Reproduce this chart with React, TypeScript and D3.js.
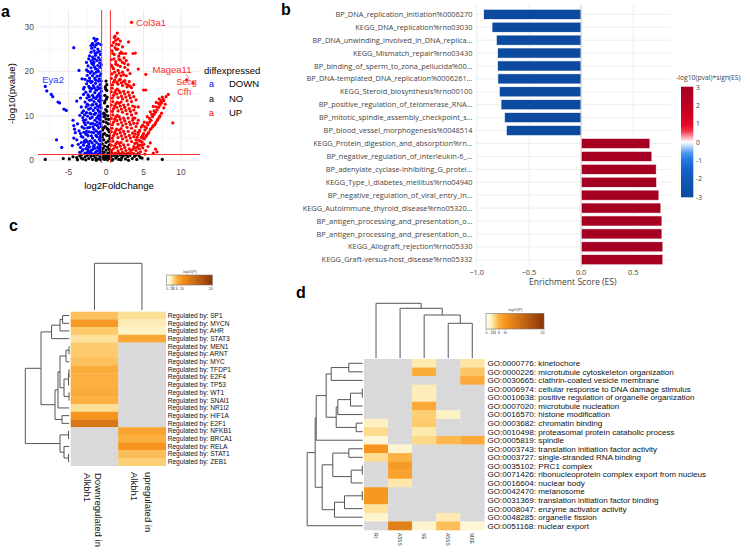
import React from "react";
import * as d3 from "d3";

// ---------- panel a: volcano ----------
const volcanoDown: [number, number][] = [
  [-8.1, 16.6], [-7.9, 15.6], [-7.3, 14.8], [-7.1, 14.3], [-6.4, 13.1], [-6.2, 12.9], [-5.6, 11.5], [-5.3, 11.2],
  [-6.6, 4.6], [-5.9, 2.9], [-4.3, 25.3], [-3.6, 20.2], [-3.2, 18.3], [-4.4, 9.0], [-4.3, 7.8], [-4.2, 7.0],
  [-4.1, 6.2], [-4.3, 5.0], [-3.9, 4.6], [-3.7, 3.6], [-4.5, 3.3], [-3.4, 2.9], [-3.1, 2.4], [-3.5, 1.8],
  [-2.8, 1.6], [-3.9, 13.3], [-3.3, 12.0], [-3.5, 10.1], [-2.9, 8.5], [-3.8, 8.2], [-3.6, 6.6], [-3.3, 5.4],
  [-2.7, 5.9], [-2.9, 4.3], [-2.5, 3.2], [-2.4, 2.0], [-2.1, 1.5],
  [-1.6, 27.4], [-1.4, 26.8], [-1.8, 26.3], [-1.3, 26.0],
  [-1.9, 25.2], [-1.5, 25.5], [-1.1, 25.0], [-2.0, 24.3], [-1.6, 24.6], [-1.2, 24.2], [-0.9, 24.5],
  [-2.2, 23.5], [-1.8, 23.2], [-1.4, 23.6], [-1.0, 23.1], [-0.8, 22.6], [-2.0, 22.3], [-1.6, 22.0], [-1.2, 22.4],
  [-2.4, 21.2], [-2.0, 20.8], [-1.7, 21.5], [-1.4, 20.6], [-1.1, 21.3], [-0.8, 20.9], [-2.6, 20.3], [-1.9, 20.0], [-1.3, 19.8],
  [-2.5, 19.1], [-2.2, 18.5], [-1.8, 19.0], [-1.5, 18.4], [-1.2, 18.9], [-0.9, 18.3], [-0.7, 19.4], [-2.8, 18.2],
  [-2.6, 17.2], [-2.3, 16.6], [-2.0, 17.5], [-1.7, 16.8], [-1.4, 17.3], [-1.1, 16.5], [-0.8, 17.0], [-2.9, 16.4], [-1.9, 16.1],
  [-2.7, 15.3], [-2.4, 14.7], [-2.1, 15.5], [-1.8, 14.6], [-1.5, 15.2], [-1.2, 14.3], [-0.9, 15.0], [-0.7, 14.4], [-3.0, 14.8],
  [-2.8, 13.1], [-2.5, 12.6], [-2.2, 13.5], [-1.9, 12.4], [-1.6, 13.2], [-1.3, 12.7], [-1.0, 13.4], [-0.75, 12.5],
  [-3.0, 11.1], [-2.6, 10.7], [-2.3, 11.5], [-2.0, 10.4], [-1.7, 11.2], [-1.4, 10.6], [-1.1, 11.4], [-0.8, 10.9], [-0.65, 11.8],
  [-2.7, 9.1], [-2.4, 8.5], [-2.1, 9.4], [-1.8, 8.3], [-1.5, 9.0], [-1.2, 8.6], [-0.9, 9.3], [-0.7, 8.1], [-3.1, 9.6],
  [-2.9, 7.2], [-2.6, 6.5], [-2.2, 7.4], [-1.9, 6.3], [-1.6, 7.0], [-1.3, 6.6], [-1.0, 7.3], [-0.75, 6.4], [-0.65, 7.6],
  [-3.1, 5.2], [-2.7, 4.6], [-2.4, 5.5], [-2.1, 4.3], [-1.8, 5.0], [-1.5, 4.4], [-1.2, 5.3], [-0.9, 4.7], [-0.7, 5.6],
  [-3.0, 3.4], [-2.7, 2.6], [-2.3, 3.7], [-2.0, 2.2], [-1.7, 3.1], [-1.4, 1.8], [-1.1, 2.9], [-0.85, 2.0], [-0.7, 3.5],
  [-1.9, 1.5], [-1.0, 1.4], [-2.6, 1.6], [-0.7, 26.0], [-0.75, 23.8], [-0.65, 21.5], [-0.7, 16.2], [-0.65, 13.5],
  [-0.7, 9.8], [-0.8, 3.0], [-0.62, 2.5], [-0.9, 12.0], [-1.0, 20.0], [-1.2, 27.2], [-0.65, 17.8], [-0.62, 15.5],
  [-0.63, 10.3], [-0.64, 4.4], [-0.95, 6.0], [-1.05, 9.9], [-1.35, 15.8], [-1.55, 21.0], [-2.15, 17.9],
  [-1.75, 26.0], [-1.45, 24.0], [-1.05, 26.3], [-2.3, 22.8], [-1.9, 21.8], [-1.5, 22.8], [-1.15, 20.4], [-0.85, 21.9],
  [-2.4, 20.0], [-2.1, 19.6], [-1.6, 19.5], [-1.35, 18.0], [-1.0, 17.8], [-0.85, 19.0], [-2.45, 17.8], [-2.15, 16.2],
  [-1.85, 17.7], [-1.55, 16.3], [-1.25, 15.8], [-0.95, 16.1], [-0.8, 14.0], [-2.55, 14.0], [-2.25, 14.3], [-1.95, 13.6],
  [-1.65, 14.1], [-1.35, 13.9], [-1.05, 14.6], [-0.85, 13.2], [-2.65, 12.0], [-2.35, 12.4], [-2.05, 11.7], [-1.75, 12.5],
  [-1.45, 11.8], [-1.15, 12.2], [-0.95, 11.0], [-2.85, 10.2], [-2.45, 9.9], [-2.15, 10.6], [-1.85, 9.7], [-1.55, 10.3],
  [-1.25, 9.5], [-0.95, 10.2], [-0.75, 9.0], [-2.75, 8.0], [-2.45, 7.3], [-2.05, 8.2], [-1.75, 7.5], [-1.45, 8.0],
  [-1.15, 7.8], [-0.85, 8.3], [-2.95, 6.3], [-2.55, 5.8], [-2.25, 6.4], [-1.95, 5.5], [-1.65, 6.2], [-1.35, 5.6],
  [-1.05, 6.2], [-0.8, 5.2], [-2.85, 4.0], [-2.5, 4.2], [-2.2, 3.0], [-1.85, 3.9], [-1.55, 3.4], [-1.25, 4.0],
  [-0.95, 3.6], [-0.75, 4.4], [-2.45, 2.5], [-2.15, 1.8], [-1.8, 2.4], [-1.5, 2.7], [-1.2, 2.1], [-0.9, 2.6],
  [-0.7, 1.7], [-1.6, 1.4], [-2.3, 1.4], [-3.2, 2.1], [-3.3, 4.0], [-3.4, 6.0], [-3.2, 7.5], [-3.0, 9.0],
  [-3.2, 10.7], [-3.4, 14.0], [-3.0, 16.0], [-2.6, 22.0], [-2.0, 25.8], [-1.7, 22.7],
];

const volcanoUp: [number, number][] = [
  [3.4, 31.0], [1.5, 28.6], [3.0, 26.6], [3.6, 24.0], [3.9, 24.1], [5.3, 19.3], [5.0, 15.8], [5.3, 15.8],
  [8.9, 8.4], [6.8, 1.9], [10.75, 18.1], [11.6, 17.4], [8.3, 14.8], [8.0, 14.3], [7.6, 13.7], [2.2, 25.5],
  [2.6, 24.0], [1.3, 27.0], [4.3, 20.5],
  [1.2, 27.9], [1.6, 27.3], [1.0, 26.5], [1.4, 26.1], [1.9, 26.8], [0.8, 25.8],
  [0.8, 24.6], [1.1, 23.8], [1.4, 24.9], [1.7, 23.4], [2.0, 24.3], [2.4, 23.0], [0.7, 22.6], [1.3, 22.2], [1.9, 22.5], [2.7, 22.4],
  [0.7, 21.4], [1.0, 20.6], [1.3, 21.6], [1.6, 20.2], [1.9, 21.1], [2.2, 19.8], [2.5, 20.9], [2.9, 20.3], [0.8, 19.4], [1.4, 19.1], [3.2, 19.5], [2.0, 19.0],
  [0.7, 18.4], [1.0, 17.6], [1.3, 18.7], [1.6, 17.1], [1.9, 18.2], [2.2, 16.8], [2.5, 17.9], [2.8, 16.5], [3.1, 17.7], [3.4, 16.3], [0.8, 16.2], [1.5, 16.0], [3.7, 17.0],
  [0.7, 15.4], [1.0, 14.6], [1.3, 15.7], [1.6, 14.1], [1.9, 15.2], [2.2, 13.8], [2.5, 14.9], [2.8, 13.4], [3.1, 14.6], [3.4, 13.2], [3.7, 14.3], [0.9, 13.2], [4.0, 13.6], [1.5, 13.0], [2.0, 13.1],
  [0.7, 12.4], [1.0, 11.6], [1.3, 12.7], [1.6, 11.1], [1.9, 12.2], [2.2, 10.8], [2.5, 11.9], [2.8, 10.4], [3.1, 11.6], [3.4, 10.2], [3.7, 11.3], [4.0, 10.6], [0.9, 10.2], [1.5, 10.1], [4.3, 12.0],
  [0.7, 9.4], [1.0, 8.6], [1.3, 9.7], [1.6, 8.1], [1.9, 9.2], [2.2, 7.8], [2.5, 8.9], [2.8, 7.4], [3.1, 8.6], [3.4, 7.2], [3.7, 8.3], [4.0, 7.6], [4.3, 9.0], [0.8, 7.2], [1.4, 7.0], [2.0, 7.1],
  [0.7, 6.4], [1.0, 5.6], [1.3, 6.7], [1.6, 5.1], [1.9, 6.2], [2.2, 4.8], [2.5, 5.9], [2.8, 4.4], [3.1, 5.6], [3.4, 4.2], [3.7, 5.3], [4.0, 4.6], [4.3, 5.8], [4.6, 4.3], [0.9, 4.3], [1.5, 4.1], [2.0, 4.0], [4.9, 5.0],
  [0.7, 3.4], [1.0, 2.6], [1.3, 3.7], [1.6, 2.1], [1.9, 3.2], [2.2, 1.8], [2.5, 2.9], [2.8, 1.5], [3.1, 2.6], [3.4, 1.7], [3.7, 3.1], [4.0, 2.2], [4.3, 3.4], [4.6, 1.9], [4.9, 2.8], [0.8, 1.6], [1.4, 1.5], [2.0, 1.4],
  [3.8, 2.8], [4.1, 3.9], [4.4, 4.5], [4.7, 5.2], [5.0, 6.0], [5.2, 6.8], [5.4, 7.3], [5.6, 8.0], [5.8, 8.6], [6.0, 9.0],
  [6.2, 9.8], [6.4, 10.3], [6.6, 10.8], [6.8, 11.3], [7.0, 11.9], [7.2, 12.4], [7.4, 12.9], [7.7, 13.4],
  [4.5, 3.4], [4.8, 4.1], [5.1, 4.8], [5.4, 5.6], [5.7, 6.3], [6.0, 7.1], [6.3, 7.8], [6.6, 8.4], [6.9, 9.2], [7.2, 10.0],
  [4.3, 6.3], [4.7, 7.5], [5.1, 8.6], [5.5, 9.8], [5.9, 10.9], [6.3, 12.1], [6.7, 13.0], [7.1, 13.8], [7.5, 14.2],
  [5.3, 2.2], [5.6, 3.1], [5.9, 3.9], [6.3, 1.6], [6.6, 2.5], [5.2, 1.4], [4.5, 6.8], [4.9, 7.9], [3.6, 9.5], [3.9, 5.9],
  [1.1, 27.6], [1.7, 26.0], [0.9, 24.0], [1.2, 25.3], [1.55, 25.0], [1.85, 24.0], [2.2, 24.0], [1.05, 22.8], [1.55, 21.4],
  [1.75, 22.7], [2.2, 22.0], [2.45, 21.8], [0.85, 21.0], [1.15, 19.8], [1.75, 19.6], [2.35, 19.2], [2.7, 19.0], [2.95, 21.5],
  [1.15, 18.0], [1.45, 17.5], [1.75, 18.0], [2.05, 17.4], [2.35, 17.7], [2.65, 17.2], [2.95, 16.9], [3.25, 16.6], [0.85, 17.0],
  [1.15, 15.2], [1.45, 14.9], [1.75, 15.6], [2.05, 14.4], [2.35, 15.5], [2.65, 14.2], [2.95, 15.3], [3.25, 14.0], [3.55, 15.2],
  [0.85, 14.0], [1.15, 12.2], [1.45, 11.9], [1.75, 12.8], [2.05, 11.5], [2.35, 12.4], [2.65, 11.2], [2.95, 12.5], [3.25, 11.0],
  [3.55, 12.2], [3.85, 12.0], [0.85, 11.0], [1.15, 9.2], [1.45, 8.9], [1.75, 9.8], [2.05, 8.5], [2.35, 9.5], [2.65, 8.2],
  [2.95, 9.5], [3.25, 8.0], [3.55, 9.0], [3.85, 9.5], [4.15, 8.3], [0.85, 8.0], [1.15, 6.2], [1.45, 5.9], [1.75, 6.8],
  [2.05, 5.5], [2.35, 6.5], [2.65, 5.2], [2.95, 6.5], [3.25, 5.0], [3.55, 6.1], [3.85, 6.6], [4.15, 5.2], [4.45, 6.5],
  [0.85, 5.0], [1.15, 3.2], [1.45, 2.9], [1.75, 3.8], [2.05, 2.5], [2.35, 3.5], [2.65, 2.2], [2.95, 3.5], [3.25, 2.2],
  [3.55, 2.4], [3.85, 3.8], [4.15, 2.9], [4.45, 2.6], [4.75, 3.4], [5.05, 3.6], [0.75, 2.2], [1.2, 1.6], [1.7, 1.6],
  [2.4, 1.5], [3.0, 1.6], [3.7, 1.5], [4.3, 1.6],
  [5.3, 5.3], [5.6, 6.0], [5.9, 6.9], [6.2, 7.5], [6.5, 8.0], [6.8, 8.9], [7.1, 9.7], [7.4, 10.6], [7.7, 11.8], [7.9, 12.6],
  [4.9, 5.6], [5.2, 7.5], [5.5, 8.4], [5.8, 9.4], [6.1, 10.3], [6.4, 11.1], [6.7, 12.0], [7.0, 12.8], [7.3, 13.3],
];

const volcanoNo: [number, number][] = [
  [-8.1, 0.2], [-5.7, 0.4], [-4.4, 0.8], [7.5, 0.2], [-3.8, 0.1], [-3.3, 0.5], [5.6, 0.3], [4.6, 0.6], [-4.9, 0.3],
  [0.0, 17.8], [-0.1, 16.5], [0.1, 15.7], [-0.15, 14.6], [0.05, 13.8], [-0.2, 12.9], [0.2, 12.1], [-0.05, 11.4],
  [-0.3, 10.6], [0.25, 10.0], [0.0, 9.3], [-0.35, 8.7], [0.3, 8.2], [-0.1, 7.6], [0.15, 7.1], [-0.45, 6.8],
  [0.4, 6.4], [-0.2, 6.0], [0.1, 5.6], [-0.5, 5.2], [0.5, 4.9], [-0.3, 4.6], [0.3, 4.3], [0.0, 4.0], [-0.5, 3.7],
  [0.45, 3.5], [-0.2, 3.2], [0.2, 3.0], [-0.4, 2.7], [0.4, 2.5], [0.0, 2.3], [-0.55, 2.1], [0.55, 1.9], [-0.25, 1.8],
  [0.25, 1.6], [-0.45, 1.4], [0.4, 1.2], [0.0, 1.1], [-0.3, 0.9], [0.3, 0.8], [-0.1, 0.6], [0.1, 0.4], [-0.5, 0.5],
  [0.5, 0.4], [-0.2, 0.2], [0.2, 0.1], [-0.25, 9.8], [0.35, 9.2], [0.1, 11.0], [-0.4, 5.8], [0.45, 5.5],
  [-0.3, 7.3], [0.3, 6.9], [-0.15, 13.3], [0.15, 14.2], [-0.05, 16.0], [0.1, 17.0], [-0.1, 10.2], [0.05, 8.5],
  [-3.9, 0.6], [-3.5, 1.0], [-3.1, 0.3], [-2.8, 0.8], [-2.5, 1.1], [-2.3, 0.4], [-2.0, 0.9], [-1.8, 0.2], [-1.6, 1.0],
  [-1.4, 0.5], [-1.2, 1.2], [-1.0, 0.3], [-0.8, 0.8], [-0.7, 0.1], [0.7, 0.9], [0.9, 0.2], [1.1, 1.1], [1.3, 0.5],
  [1.5, 0.9], [1.7, 0.2], [1.9, 1.2], [2.1, 0.6], [2.3, 1.0], [2.6, 0.3], [2.9, 0.8], [3.2, 1.1], [3.5, 0.4],
  [3.8, 0.9], [4.1, 0.2], [4.4, 1.0], [4.8, 0.5], [-2.7, 0.1], [-1.3, 0.0], [0.8, 0.0], [2.0, 0.1], [3.0, 0.0],
  [-3.3, 1.2], [4.0, 1.2], [2.7, 1.2],
];

const volcanoLabels = [
  { text: "Col3a1", color: "#ff2a2a", x: 4.0, y: 30.2, size: 9.5 },
  { text: "Eya2", color: "#3a3aff", x: -8.5, y: 17.3, size: 9.5 },
  { text: "Magea11", color: "#ff2a2a", x: 6.2, y: 19.7, size: 9.5 },
  { text: "Secg", color: "#ff2a2a", x: 9.35, y: 17.0, size: 9 },
  { text: "Cfh", color: "#ff2a2a", x: 9.5, y: 14.7, size: 9 },
];

// ---------- panel b: enrichment bars ----------
const pathwayLabels = [
  "BP_DNA_replication_initiation%0006270",
  "KEGG_DNA_replication%rno03030",
  "BP_DNA_unwinding_involved_in_DNA_replica...",
  "KEGG_Mismatch_repair%rno03430",
  "BP_binding_of_sperm_to_zona_pellucida%00...",
  "BP_DNA-templated_DNA_replication%0006261...",
  "KEGG_Steroid_biosynthesis%rno00100",
  "BP_positive_regulation_of_telomerase_RNA...",
  "BP_mitotic_spindle_assembly_checkpoint_s...",
  "BP_blood_vessel_morphogenesis%0048514",
  "KEGG_Protein_digestion_and_absorption%rn...",
  "BP_negative_regulation_of_interleukin-6_...",
  "BP_adenylate_cyclase-inhibiting_G_protei...",
  "KEGG_Type_I_diabetes_mellitus%rno04940",
  "BP_negative_regulation_of_viral_entry_in...",
  "KEGG_Autoimmune_thyroid_disease%rno05320...",
  "BP_antigen_processing_and_presentation_o...",
  "BP_antigen_processing_and_presentation_o... ",
  "KEGG_Allograft_rejection%rno05330",
  "KEGG_Graft-versus-host_disease%rno05332",
];
const enrichmentScores = [
  -0.933, -0.853, -0.812, -0.8, -0.8, -0.797, -0.783, -0.767, -0.733, -0.716,
  0.659, 0.678, 0.719, 0.723, 0.745, 0.764, 0.774, 0.774, 0.783, 0.783,
];
const signedLogP = [-3.5, -3.4, -3.3, -3.2, -3.2, -3.1, -3.1, -3.0, -3.0, -3.0, 3.0, 3.0, 3.1, 3.1, 3.2, 3.3, 3.4, 3.4, 3.5, 3.5];
const esTicks = [-1, -0.5, 0, 0.5];
const pvalTicks = [3, 2, 1, 0, -1, -2, -3];

// ---------- panel c: transcription factor heatmap ----------
const tfRows = ["SP1", "MYCN", "AHR", "STAT3", "MEN1", "ARNT", "MYC", "TFDP1", "E2F4", "TP53", "WT1", "SNAI1", "NR1I2", "HIF1A", "E2F1", "NFKB1", "BRCA1", "RELA", "STAT1", "ZEB1"];
const tfDown = [5, 9, 4.5, 3, 4.5, 4.5, 5, 6.5, 6, 6, 6.8, 6, 3.2, 10, 13, NaN, NaN, NaN, NaN, NaN];
const tfUp = [3.2, 2.3, 1.8, 7.5, NaN, NaN, NaN, NaN, NaN, NaN, NaN, NaN, NaN, NaN, NaN, 7.8, 6.2, 10, 5.2, 4.2];

// ---------- panel d: GO heatmap ----------
const goRows = [
  "GO:0000776: kinetochore",
  "GO:0000226: microtubule cytoskeleton organization",
  "GO:0030665: clathrin-coated vesicle membrane",
  "GO:0006974: cellular response to DNA damage stimulus",
  "GO:0010638: positive regulation of organelle organization",
  "GO:0007020: microtubule nucleation",
  "GO:0016570: histone modification",
  "GO:0003682: chromatin binding",
  "GO:0010498: proteasomal protein catabolic process",
  "GO:0005819: spindle",
  "GO:0003743: translation initiation factor activity",
  "GO:0003727: single-stranded RNA binding",
  "GO:0035102: PRC1 complex",
  "GO:0071426: ribonucleoprotein complex export from nucleus",
  "GO:0016604: nuclear body",
  "GO:0042470: melanosome",
  "GO:0031369: translation initiation factor binding",
  "GO:0008047: enzyme activator activity",
  "GO:0048285: organelle fission",
  "GO:0051168: nuclear export",
];
const goCols = ["RI", "A3SS", "SE", "A5SS", "MXE"];
const goRI = [NaN, NaN, NaN, NaN, NaN, NaN, NaN, 2.0, 3.5, 1.2, 10, 3.4, NaN, NaN, NaN, 9.5, 9.5, 3.0, 1.5, NaN];
const goA3SS = [NaN, NaN, NaN, NaN, NaN, NaN, NaN, NaN, NaN, NaN, 1.4, 5.8, 9, 8, 2.6, NaN, NaN, NaN, NaN, 12];
const goSE = [2.5, 6.5, NaN, 2.2, 2.2, 7.2, 4.2, 4.5, 2.5, 3.6, NaN, NaN, NaN, NaN, NaN, NaN, NaN, NaN, NaN, 1.5];
const goA5SS = [NaN, NaN, NaN, NaN, NaN, NaN, 1.8, NaN, NaN, 5.5, NaN, NaN, NaN, NaN, NaN, NaN, NaN, NaN, 2.4, 5.2];
const goMXE = [2.8, 4.8, 6.8, NaN, NaN, NaN, NaN, NaN, NaN, 7.0, NaN, NaN, NaN, NaN, NaN, NaN, NaN, NaN, NaN, 1.2];

const legendTicks = [0, 2, 3, 4, 6, 10, 20];
const legendPos = [0, 0.095, 0.125, 0.155, 0.225, 0.33, 1];

const heatColor = d3
  .scaleLinear<string>()
  .domain([0, 2, 4, 6, 10, 20])
  .range(["#fffff5", "#fef0c0", "#fdd27a", "#fbb040", "#f7941d", "#8b3408"])
  .clamp(true);

const esColor = d3
  .scaleLinear<string>()
  .domain([-3, -1.5, -0.7, 0, 0.7, 1.5, 3])
  .range(["#0b4a9e", "#1461c8", "#2f86f0", "#ffffff", "#f0102a", "#cc0022", "#a50021"])
  .clamp(true);

// dendrogram trees (heights in px from the heatmap edge)
type Node = number | { h: number; c: Node[] };
const treeC: Node = {
  h: 44.7,
  c: [
    {
      h: 29,
      c: [
        { h: 18.4, c: [{ h: 10, c: [{ h: 7.4, c: [0, 1] }, 2] }, 3] },
        {
          h: 15,
          c: [
            {
              h: 12,
              c: [
                { h: 10, c: [{ h: 4, c: [{ h: 1, c: [4, 5] }, 6] }, { h: 6, c: [{ h: 1.5, c: [{ h: 1, c: [7, 8] }, 9] }, { h: 1, c: [10, 11] }] }] },
                12,
              ],
            },
            { h: 8, c: [13, 14] },
          ],
        },
      ],
    },
    { h: 10, c: [{ h: 1.5, c: [15, 16] }, { h: 6, c: [17, { h: 1.5, c: [18, 19] }] }] },
  ],
};
const treeCcols: Node = { h: 46.7, c: [0, 1] };
const treeD: Node = {
  h: 56.3,
  c: [
    {
      h: 48.3,
      c: [
        {
          h: 47.3,
          c: [
            {
              h: 37.3,
              c: [
                { h: 32.3, c: [{ h: 14.7, c: [0, 1] }, 2] },
                { h: 27.3, c: [{ h: 25.7, c: [{ h: 13, c: [{ h: 1.2, c: [3, 4] }, 5] }, 6] }, { h: 7.3, c: [7, 8] }] },
              ],
            },
            9,
          ],
        },
        {
          h: 41.3,
          c: [
            { h: 30.7, c: [{ h: 14.7, c: [10, 11] }, { h: 12.3, c: [{ h: 1.2, c: [12, 13] }, 14] }] },
            { h: 29, c: [{ h: 19, c: [{ h: 1.2, c: [15, 16] }, 17] }, 18] },
          ],
        },
      ],
    },
    19,
  ],
};
const treeDcols: Node = { h: 54.7, c: [0, { h: 49.7, c: [1, { h: 43, c: [2, { h: 34.7, c: [3, 4] }] }] }] };

// returns [leafAxisPos, height] and pushes segments
function dendro(node: Node, pos: (i: number) => number, segs: number[][]): [number, number] {
  if (typeof node === "number") return [pos(node), 0];
  const kids = node.c.map((k) => dendro(k, pos, segs));
  kids.forEach(([p, h]) => segs.push([p, h, p, node.h]));
  segs.push([kids[0][0], node.h, kids[kids.length - 1][0], node.h]);
  return [(kids[0][0] + kids[kids.length - 1][0]) / 2, node.h];
}

function RowDendro({ tree, pos, edge }: { tree: Node; pos: (i: number) => number; edge: number }) {
  const segs: number[][] = [];
  dendro(tree, pos, segs);
  return (
    <g stroke="#555" strokeWidth={1} fill="none">
      {segs.map(([p1, h1, p2, h2], i) => (
        <line key={i} x1={edge - Math.max(h1, 0.8)} y1={p1} x2={edge - Math.max(h2, 0.8)} y2={p2} />
      ))}
    </g>
  );
}

function ColDendro({ tree, pos, edge }: { tree: Node; pos: (i: number) => number; edge: number }) {
  const segs: number[][] = [];
  dendro(tree, pos, segs);
  return (
    <g stroke="#555" strokeWidth={1} fill="none">
      {segs.map(([p1, h1, p2, h2], i) => (
        <line key={i} x1={p1} y1={edge - h1} x2={p2} y2={edge - h2} />
      ))}
    </g>
  );
}

function HeatLegend({ x, y, w, h, id }: { x: number; y: number; w: number; h: number; id: string }) {
  return (
    <g fontFamily="Arial, 'Liberation Sans', sans-serif">
      <defs>
        <linearGradient id={id} x1="0" x2="1" y1="0" y2="0">
          {legendTicks.map((t, i) => (
            <stop key={i} offset={legendPos[i]} stopColor={heatColor(t)} />
          ))}
        </linearGradient>
      </defs>
      <text x={x + w / 2} y={y - 2} fontSize={3.6} textAnchor="middle" fill="#444">-log10(P)</text>
      <rect x={x} y={y} width={w} height={h} fill={`url(#${id})`} stroke="#777" strokeWidth={0.6} />
      {legendTicks.map((t, i) => (
        <g key={t}>
          <line x1={x + legendPos[i] * w} x2={x + legendPos[i] * w} y1={y + h} y2={y + h + 1.5} stroke="#777" strokeWidth={0.5} />
          <text x={x + legendPos[i] * w + (t === 20 ? -1.5 : t === 0 ? 0.5 : 0)} y={y + h + 5} fontSize={3.6} textAnchor="middle" fill="#444">
            {t}
          </text>
        </g>
      ))}
    </g>
  );
}

export default function App() {
  // panel a scales
  const xA = d3.scaleLinear().domain([-9.07, 12.53]).range([38, 200]);
  const yA = d3.scaleLinear().domain([0, 30]).range([160.3, 26.8]);
  const panelTop = 10;
  const panelBottom = 163;
  const xMinor = [-7.5, -2.5, 2.5, 7.5];
  const xMajor = [-5, 0, 5, 10];
  const yMinor = [5, 15, 25];
  const yMajor = [0, 10, 20, 30];

  // panel b scales
  const xB = d3.scaleLinear().domain([-1, 0.5]).range([476.7, 633.3]);
  const yB = d3.scaleBand().domain(pathwayLabels).range([7.84, 266.2]).paddingInner(0.22).paddingOuter(0.11);
  const bTop = 5;
  const bBottom = 267;
  const bRight = xB(0.86);

  // panel c
  const xC = d3.scaleBand().domain(["down", "up"]).range([70.7, 165.7]);
  const yC = d3.scaleBand().domain(tfRows).range([311.7, 465.7]);
  // panel d
  const xD = d3.scaleBand().domain(goCols).range([364, 484.3]);
  const yD = d3.scaleBand().domain(goRows).range([359, 530]);
  const goData = [goRI, goA3SS, goSE, goA5SS, goMXE];

  const sans = "Arial, 'Liberation Sans', sans-serif";
  const plotly = "'Open Sans', 'Noto Sans', sans-serif";
  const r = 1.6;

  return (
    <svg width={750} height={559} style={{ position: "absolute", left: 0, top: 0, background: "#fff" }}>
      <rect width={750} height={559} fill="#fff" />
      {/* ================= panel a ================= */}
      <text x={1} y={17} fontFamily={sans} fontWeight="bold" fontSize={16}>a</text>
      <g stroke="#ebebeb">
        {xMinor.map((v) => (
          <line key={"xm" + v} x1={xA(v)} x2={xA(v)} y1={panelTop} y2={panelBottom} strokeWidth={0.5} />
        ))}
        {yMinor.map((v) => (
          <line key={"ym" + v} y1={yA(v)} y2={yA(v)} x1={38} x2={200} strokeWidth={0.5} />
        ))}
        {xMajor.map((v) => (
          <line key={"xM" + v} x1={xA(v)} x2={xA(v)} y1={panelTop} y2={panelBottom} strokeWidth={1} />
        ))}
        {yMajor.map((v) => (
          <line key={"yM" + v} y1={yA(v)} y2={yA(v)} x1={38} x2={200} strokeWidth={1} />
        ))}
      </g>
      <g>
        {volcanoDown.map(([x, y], i) => (
          <circle key={"d" + i} cx={xA(x)} cy={yA(y)} r={r} fill="#0000ff" />
        ))}
        {volcanoUp.map(([x, y], i) => (
          <circle key={"u" + i} cx={xA(x)} cy={yA(y)} r={r} fill="#ff0000" />
        ))}
        {volcanoNo.map(([x, y], i) => (
          <circle key={"n" + i} cx={xA(x)} cy={yA(y)} r={r} fill="#000" />
        ))}
      </g>
      <g stroke="#ff3030" strokeWidth={1}>
        <line x1={xA(-0.585)} x2={xA(-0.585)} y1={panelTop} y2={panelBottom} />
        <line x1={xA(0.585)} x2={xA(0.585)} y1={panelTop} y2={panelBottom} />
        <line x1={38} x2={200} y1={yA(1.3)} y2={yA(1.3)} />
      </g>
      {volcanoLabels.map((l) => (
        <text key={l.text} x={xA(l.x)} y={yA(l.y)} fill={l.color} fontFamily={sans} fontSize={l.size}>
          {l.text}
        </text>
      ))}
      <line x1={186} y1={74.5} x2={189} y2={78.5} stroke="#ff2a2a" strokeWidth={0.7} />
      <g fontFamily={sans} fontSize={8.5} fill="#4d4d4d">
        {xMajor.map((v) => (
          <text key={v} x={xA(v)} y={175} textAnchor="middle">{v}</text>
        ))}
        {yMajor.map((v) => (
          <text key={v} x={34} y={yA(v) + 3} textAnchor="end">{v}</text>
        ))}
      </g>
      <text x={119} y={189} textAnchor="middle" fontFamily={sans} fontSize={9.5}>log2FoldChange</text>
      <text transform={`translate(15,${yA(15)}) rotate(-90)`} textAnchor="middle" fontFamily={sans} fontSize={9.5}>
        -log10(pvalue)
      </text>
      <g fontFamily={sans} fontSize={9.5}>
        <text x={204} y={74}>diffexpressed</text>
        <text x={209} y={87} fill="#0000ff" fontSize={9}>a</text>
        <text x={229} y={87}>DOWN</text>
        <text x={209} y={101.5} fill="#000" fontSize={9}>a</text>
        <text x={229} y={101.5}>NO</text>
        <text x={209} y={116} fill="#ff0000" fontSize={9}>a</text>
        <text x={229} y={116}>UP</text>
      </g>

      {/* ================= panel b ================= */}
      <text x={281} y={15} fontFamily={sans} fontWeight="bold" fontSize={16}>b</text>
      <g stroke="#eeeeee" strokeWidth={1}>
        {pathwayLabels.map((l) => (
          <line key={l} x1={xB(-1)} x2={bRight} y1={(yB(l) || 0) + yB.bandwidth() / 2} y2={(yB(l) || 0) + yB.bandwidth() / 2} />
        ))}
        {esTicks.map((t) => (
          <line key={t} x1={xB(t)} x2={xB(t)} y1={bTop} y2={bBottom} />
        ))}
      </g>
      <g>
        {pathwayLabels.map((l, i) => {
          const v = enrichmentScores[i];
          const x0 = Math.min(xB(0), xB(v));
          return (
            <rect key={l} x={x0} y={yB(l)} width={Math.abs(xB(v) - xB(0))} height={yB.bandwidth()} fill={esColor(signedLogP[i])} stroke="#fff" strokeWidth={0.6} />
          );
        })}
      </g>
      <line x1={xB(0)} x2={xB(0)} y1={bTop} y2={bBottom} stroke="#d0d0d0" strokeWidth={1} />
      <g fontFamily={plotly} fontSize={7.4} fill="#444">
        {pathwayLabels.map((l) => (
          <text key={l} x={472.5} y={(yB(l) || 0) + yB.bandwidth() / 2 + 2.6} textAnchor="end">{l.trim()}</text>
        ))}
        {esTicks.map((t) => (
          <text key={t} x={xB(t)} y={275} textAnchor="middle">{d3.format(".1f")(t)}</text>
        ))}
        <text x={xB(-0.08)} y={285} fontSize={8.6} textAnchor="middle">Enrichment Score (ES)</text>
      </g>
      <defs>
        <linearGradient id="esGrad" x1="0" x2="0" y1="0" y2="1">
          {d3.range(0, 1.0001, 0.05).map((t) => (
            <stop key={t} offset={t} stopColor={esColor(3 - 6 * t)} />
          ))}
        </linearGradient>
      </defs>
      <rect x={681} y={86.7} width={12.3} height={110.6} fill="url(#esGrad)" />
      <g fontFamily={plotly} fontSize={6.8} fill="#444">
        <text x={676} y={80}>-log10(pval)*sign(ES)</text>
        {pvalTicks.map((t) => (
          <text key={t} x={696} y={86.7 + ((3 - t) / 6) * 110.6 + (t === 3 ? 3.5 : 2.5)}>{t}</text>
        ))}
      </g>

      {/* ================= panel c ================= */}
      <text x={9} y={231} fontFamily={sans} fontWeight="bold" fontSize={16}>c</text>
      <ColDendro tree={treeCcols} pos={(i) => (xC(i === 0 ? "down" : "up") || 0) + xC.bandwidth() / 2} edge={310} />
      <RowDendro tree={treeC} pos={(i) => (yC(tfRows[i]) || 0) + yC.bandwidth() / 2} edge={70} />
      <HeatLegend x={166.7} y={275} w={45.6} h={10} id="legC" />
      <g>
        {tfRows.map((rw, i) =>
          [tfDown[i], tfUp[i]].map((v, j) => (
            <rect
              key={rw + j}
              x={xC(j === 0 ? "down" : "up")}
              y={yC(rw)}
              width={xC.bandwidth() + 0.3}
              height={yC.bandwidth() + 0.3}
              fill={isNaN(v) ? "#d9d9d9" : heatColor(v)}
            />
          ))
        )}
      </g>
      <g fontFamily={sans} fontSize={6.6} fill="#111">
        {tfRows.map((rw) => (
          <text key={rw} x={167.7} y={(yC(rw) || 0) + yC.bandwidth() / 2 + 2.3}>Regulated by: {rw}</text>
        ))}
      </g>
      <g fontFamily={sans} fontSize={9.5} fill="#111">
        <text transform="translate(95,473) rotate(90)">Downregulated in</text>
        <text transform="translate(83.5,473) rotate(90)">Alkbh1</text>
        <text transform="translate(145,472) rotate(90)">upregulated in</text>
        <text transform="translate(131,472) rotate(90)">Alkbh1</text>
      </g>

      {/* ================= panel d ================= */}
      <text x={296} y={298} fontFamily={sans} fontWeight="bold" fontSize={16}>d</text>
      <ColDendro tree={treeDcols} pos={(i) => (xD(goCols[i]) || 0) + xD.bandwidth() / 2} edge={358} />
      <RowDendro tree={treeD} pos={(i) => (yD(goRows[i]) || 0) + yD.bandwidth() / 2} edge={363.5} />
      <HeatLegend x={486} y={313.3} w={58} h={15.7} id="legD" />
      <g>
        {goRows.map((rw, i) =>
          goCols.map((c, j) => {
            const v = goData[j][i];
            return (
              <rect key={rw + c} x={xD(c)} y={yD(rw)} width={xD.bandwidth() + 0.3} height={yD.bandwidth() + 0.3} fill={isNaN(v) ? "#d9d9d9" : heatColor(v)} />
            );
          })
        )}
      </g>
      <g fontFamily={sans} fontSize={8.1} fill="#111">
        {goRows.map((rw) => (
          <text key={rw} x={487.5} y={(yD(rw) || 0) + yD.bandwidth() / 2 + 2.9}>{rw}</text>
        ))}
      </g>
      <g fontFamily={sans} fontSize={5} fill="#333">
        {goCols.map((c) => (
          <text key={c} transform={`translate(${(xD(c) || 0) + xD.bandwidth() / 2 - 2},533) rotate(90)`}>{c}</text>
        ))}
      </g>
    </svg>
  );
}
